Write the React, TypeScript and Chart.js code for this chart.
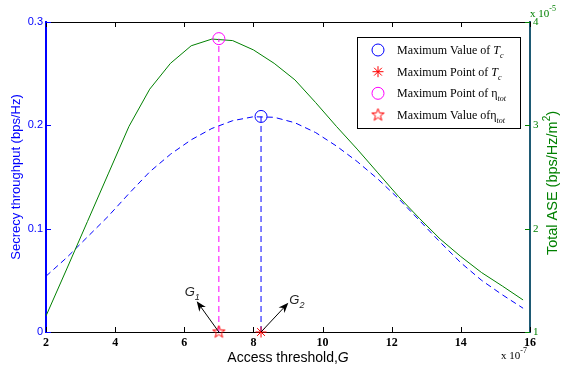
import React, { useEffect, useRef } from "react";
import { Chart, registerables } from "chart.js";

Chart.register(...registerables);

// ---- data ----
const accessThreshold = [2.0, 2.6, 3.2, 3.8, 4.4, 5.0, 5.6, 6.2, 6.8, 7.4, 8.0, 8.6, 9.2, 9.8, 10.4, 11.0, 11.6, 12.2, 12.8, 13.4, 14.0, 14.6, 15.2, 15.8];
const secrecyThroughput = [0.054, 0.072, 0.092, 0.112, 0.134, 0.155, 0.172, 0.186, 0.197, 0.2045, 0.2083, 0.2078, 0.2025, 0.193, 0.18, 0.165, 0.148, 0.129, 0.108, 0.087, 0.067, 0.05, 0.036, 0.023];
const totalASE = [1.155, 1.61, 2.07, 2.53, 2.99, 3.35, 3.6, 3.77, 3.835, 3.82, 3.73, 3.6, 3.44, 3.22, 2.99, 2.77, 2.54, 2.31, 2.1, 1.9, 1.73, 1.575, 1.445, 1.31];

const xTickValues = [2, 4, 6, 8, 10, 12, 14, 16];
const leftTickValues = [0, 0.1, 0.2, 0.3];
const rightTickValues = [1, 2, 3, 4];

const tcMaxPoint = { x: 8.22, y: 0.2086 };
const etaMaxPoint = { x: 7.0, y: 3.839 };
const g1ArrowTip = { x: 6.36, y: 0.0298 };
const g2ArrowTip = { x: 9.01, y: 0.0282 };

const legendLabels = ["Maximum Value of ", "Maximum Point of ", "Maximum Point of ", "Maximum Value of"];
const legendSymbols = ["T", "T", "\u03b7", "\u03b7"];
const legendSubs = ["c", "c", "tot", "tot"];

const xTitle = "Access threshold,";
const xTitleVar = "G";
const leftTitle = "Secrecy throughput (bps/Hz)";
const rightTitleMain = "Total ASE (bps/Hz/m";
const rightTitleSup = "2";
const rightTitleEnd = ")";

const BLUE = "#0000ff";
const GREEN = "#008000";
const MAGENTA = "#ff00ff";
const RED = "#ff0000";
const RIGHT_AXIS = "#1e5a74";

const SERIF = '"Liberation Serif", "Times New Roman", serif';
const SANS = '"Liberation Sans", Arial, Helvetica, sans-serif';

function makePentagram(color: string, outer: number) {
  const size = Math.ceil(outer * 2 + 4);
  const c = document.createElement("canvas");
  c.width = size;
  c.height = size;
  const ctx = c.getContext("2d")!;
  const cx = size / 2, cy = size / 2;
  const inner = outer * 0.4;
  ctx.beginPath();
  for (let i = 0; i < 10; i++) {
    const r = i % 2 === 0 ? outer : inner;
    const a = -Math.PI / 2 + (i * Math.PI) / 5;
    const px = cx + r * Math.cos(a);
    const py = cy + r * Math.sin(a);
    if (i === 0) ctx.moveTo(px, py); else ctx.lineTo(px, py);
  }
  ctx.closePath();
  ctx.strokeStyle = color;
  ctx.lineWidth = 1;
  ctx.stroke();
  return c;
}

function drawAsterisk(ctx: CanvasRenderingContext2D, x: number, y: number, r: number, color: string) {
  ctx.save();
  ctx.strokeStyle = color;
  ctx.lineWidth = 1;
  ctx.beginPath();
  for (let i = 0; i < 4; i++) {
    const a = (i * Math.PI) / 4;
    ctx.moveTo(x - r * Math.cos(a), y - r * Math.sin(a));
    ctx.lineTo(x + r * Math.cos(a), y + r * Math.sin(a));
  }
  ctx.stroke();
  ctx.restore();
}

function drawArrow(ctx: CanvasRenderingContext2D, x0: number, y0: number, x1: number, y1: number) {
  const ang = Math.atan2(y1 - y0, x1 - x0);
  const len = 10, w = 4, notch = 7;
  const ux = Math.cos(ang), uy = Math.sin(ang);
  const px = -uy, py = ux;
  ctx.save();
  ctx.strokeStyle = "#000";
  ctx.fillStyle = "#000";
  ctx.lineWidth = 1;
  ctx.beginPath();
  ctx.moveTo(x0, y0);
  ctx.lineTo(x1 - ux * notch, y1 - uy * notch);
  ctx.stroke();
  ctx.beginPath();
  ctx.moveTo(x1, y1);
  ctx.lineTo(x1 - ux * len + px * w, y1 - uy * len + py * w);
  ctx.lineTo(x1 - ux * notch, y1 - uy * notch);
  ctx.lineTo(x1 - ux * len - px * w, y1 - uy * len - py * w);
  ctx.closePath();
  ctx.fill();
  ctx.restore();
}

type Run = { text: string; font: string; dy?: number };
function runsWidth(ctx: CanvasRenderingContext2D, runs: Run[]) {
  let w = 0;
  for (const r of runs) { ctx.font = r.font; w += ctx.measureText(r.text).width; }
  return w;
}
function drawRuns(ctx: CanvasRenderingContext2D, x: number, y: number, runs: Run[]) {
  let cx = x;
  for (const r of runs) {
    ctx.font = r.font;
    ctx.fillText(r.text, cx, y + (r.dy || 0));
    cx += ctx.measureText(r.text).width;
  }
  return cx;
}

export default function App() {
  const canvasRef = useRef<HTMLCanvasElement | null>(null);

  useEffect(() => {
    const canvas = canvasRef.current;
    if (!canvas) return;
    const pentagram = makePentagram(RED, 6.5);

    const overlay = {
      id: "overlay",
      afterDatasetsDraw(chart: any) {
        const ctx: CanvasRenderingContext2D = chart.ctx;
        const xs = chart.scales.x, ys = chart.scales.y;
        const b1x = xs.getPixelForValue(etaMaxPoint.x), b1y = ys.getPixelForValue(0);
        const t1x = xs.getPixelForValue(g1ArrowTip.x), t1y = ys.getPixelForValue(g1ArrowTip.y);
        const b2x = xs.getPixelForValue(tcMaxPoint.x), b2y = ys.getPixelForValue(0);
        const t2x = xs.getPixelForValue(g2ArrowTip.x), t2y = ys.getPixelForValue(g2ArrowTip.y);
        drawArrow(ctx, b1x, b1y, t1x, t1y);
        drawArrow(ctx, b2x, b2y, t2x, t2y);
        ctx.save();
        ctx.fillStyle = "#222";
        ctx.textBaseline = "alphabetic";
        ctx.textAlign = "left";
        drawRuns(ctx, t1x - 12, t1y - 5, [
          { text: "G", font: `italic 13px ${SANS}` },
          { text: "1", font: `italic 9px ${SANS}`, dy: 4 },
        ]);
        drawRuns(ctx, t2x + 1, t2y + 1, [
          { text: "G", font: `italic 13px ${SANS}` },
          { text: "2", font: `italic 9px ${SANS}`, dy: 4 },
        ]);
        ctx.restore();
      },
      afterDraw(chart: any) {
        const ctx: CanvasRenderingContext2D = chart.ctx;
        const { left, right, top, bottom } = chart.chartArea;
        const xs = chart.scales.x, ys = chart.scales.y, y1 = chart.scales.y1;
        ctx.save();
        // top border
        ctx.strokeStyle = "#000";
        ctx.lineWidth = 1;
        ctx.beginPath();
        ctx.moveTo(left, top + 0.5);
        ctx.lineTo(right, top + 0.5);
        ctx.stroke();
        // x tick marks (inward, bottom and top)
        ctx.beginPath();
        for (const v of xTickValues) {
          const px = Math.round(xs.getPixelForValue(v)) + 0.5;
          ctx.moveTo(px, bottom);
          ctx.lineTo(px, bottom - 5);
          ctx.moveTo(px, top);
          ctx.lineTo(px, top + 5);
        }
        ctx.stroke();
        // left ticks
        ctx.strokeStyle = BLUE;
        ctx.beginPath();
        for (const v of leftTickValues) {
          const py = Math.round(ys.getPixelForValue(v)) + 0.5;
          ctx.moveTo(left, py);
          ctx.lineTo(left + 5, py);
        }
        ctx.stroke();
        // right ticks
        ctx.strokeStyle = GREEN;
        ctx.beginPath();
        for (const v of rightTickValues) {
          const py = Math.round(y1.getPixelForValue(v)) + 0.5;
          ctx.moveTo(right - 5, py);
          ctx.lineTo(right, py);
        }
        ctx.stroke();

        // titles
        ctx.textBaseline = "alphabetic";
        ctx.fillStyle = "#000";
        const xRuns: Run[] = [
          { text: xTitle, font: `14px ${SANS}` },
          { text: xTitleVar, font: `italic 14px ${SANS}` },
        ];
        const xw = runsWidth(ctx, xRuns);
        drawRuns(ctx, (left + right) / 2 - xw / 2, 362, xRuns);

        // x 10^-7
        drawRuns(ctx, 501, 359, [
          { text: "x 10", font: `11px ${SERIF}` },
          { text: "-7", font: `8px ${SERIF}`, dy: -6 },
        ]);
        // x 10^-5 (right axis)
        ctx.fillStyle = GREEN;
        drawRuns(ctx, 530, 17, [
          { text: "x 10", font: `11px ${SERIF}` },
          { text: "-5", font: `8px ${SERIF}`, dy: -6 },
        ]);

        // left title
        ctx.save();
        ctx.translate(16, (top + bottom) / 2);
        ctx.rotate(-Math.PI / 2);
        ctx.fillStyle = BLUE;
        ctx.textAlign = "center";
        ctx.textBaseline = "middle";
        ctx.font = `13px ${SANS}`;
        ctx.fillText(leftTitle, 0, 0);
        ctx.restore();

        // right title
        ctx.save();
        ctx.translate(553, (top + bottom) / 2 + 6);
        ctx.rotate(-Math.PI / 2);
        ctx.fillStyle = GREEN;
        ctx.textAlign = "left";
        ctx.textBaseline = "middle";
        const rRuns: Run[] = [
          { text: rightTitleMain, font: `14.5px ${SANS}` },
          { text: rightTitleSup, font: `10px ${SANS}`, dy: -6 },
          { text: rightTitleEnd, font: `14.5px ${SANS}` },
        ];
        const rw = runsWidth(ctx, rRuns);
        drawRuns(ctx, -rw / 2, 0, rRuns);
        ctx.restore();

        // legend
        const lx = 357.5, ly = 37.5, lw = 163, lh = 91;
        ctx.fillStyle = "#fff";
        ctx.fillRect(lx, ly, lw, lh);
        ctx.strokeStyle = "#000";
        ctx.lineWidth = 1;
        ctx.strokeRect(lx, ly, lw, lh);
        const rowY = [50, 71.7, 93.3, 115];
        const mx = 378, tx = 397;
        ctx.lineWidth = 1;
        ctx.strokeStyle = BLUE;
        ctx.beginPath();
        ctx.arc(mx, rowY[0], 6, 0, Math.PI * 2);
        ctx.stroke();
        drawAsterisk(ctx, mx, rowY[1], 5.5, RED);
        ctx.strokeStyle = MAGENTA;
        ctx.beginPath();
        ctx.arc(mx, rowY[2], 6, 0, Math.PI * 2);
        ctx.stroke();
        ctx.drawImage(pentagram, mx - pentagram.width / 2, rowY[3] - pentagram.height / 2);
        ctx.fillStyle = "#000";
        ctx.textAlign = "left";
        ctx.textBaseline = "alphabetic";
        for (let i = 0; i < legendLabels.length; i++) {
          const isEta = i >= 2;
          drawRuns(ctx, tx, rowY[i] + 4, [
            { text: legendLabels[i], font: `12px ${SERIF}` },
            { text: legendSymbols[i], font: isEta ? `12px ${SERIF}` : `italic 12px ${SERIF}` },
            { text: legendSubs[i], font: `italic 8px ${SERIF}`, dy: 4 },
          ]);
        }
        ctx.restore();
      },
    };

    const chart = new Chart(canvas, {
      type: "line",
      data: {
        datasets: [
          {
            label: "Maximum Value of Tc",
            data: [tcMaxPoint],
            yAxisID: "y",
            showLine: false,
            pointStyle: "circle",
            pointRadius: 6,
            pointBorderColor: BLUE,
            pointBackgroundColor: "rgba(0,0,0,0)",
            pointBorderWidth: 1,
            clip: false,
            order: 0,
          },
          {
            label: "Maximum Point of eta",
            data: [etaMaxPoint],
            yAxisID: "y1",
            showLine: false,
            pointStyle: "circle",
            pointRadius: 6,
            pointBorderColor: MAGENTA,
            pointBackgroundColor: "rgba(0,0,0,0)",
            pointBorderWidth: 1,
            clip: false,
            order: 0,
          },
          {
            label: "Maximum Point of Tc",
            data: [{ x: tcMaxPoint.x, y: 0 }],
            yAxisID: "y",
            showLine: false,
            pointStyle: "star",
            pointRadius: 5.5,
            pointBorderColor: RED,
            pointBackgroundColor: RED,
            pointBorderWidth: 1,
            clip: false,
            order: 0,
          },
          {
            label: "Maximum Value of eta",
            data: [{ x: etaMaxPoint.x, y: 0 }],
            yAxisID: "y",
            showLine: false,
            pointStyle: pentagram as any,
            pointRadius: 6,
            clip: false,
            order: 0,
          },
          {
            label: "tc drop",
            data: [{ x: tcMaxPoint.x, y: 0 }, { x: tcMaxPoint.x, y: tcMaxPoint.y }],
            yAxisID: "y",
            borderColor: BLUE,
            borderWidth: 1,
            borderDash: [6, 4],
            pointRadius: 0,
            fill: false,
            order: 1,
          },
          {
            label: "eta drop",
            data: [{ x: etaMaxPoint.x, y: 1 }, { x: etaMaxPoint.x, y: etaMaxPoint.y }],
            yAxisID: "y1",
            borderColor: MAGENTA,
            borderWidth: 1,
            borderDash: [6, 4],
            pointRadius: 0,
            fill: false,
            order: 1,
          },
          {
            label: "Total ASE",
            data: accessThreshold.map((x, i) => ({ x, y: totalASE[i] })),
            yAxisID: "y1",
            borderColor: GREEN,
            borderWidth: 1,
            pointRadius: 0,
            tension: 0,
            fill: false,
            order: 2,
          },
          {
            label: "Secrecy throughput",
            data: accessThreshold.map((x, i) => ({ x, y: secrecyThroughput[i] })),
            yAxisID: "y",
            borderColor: BLUE,
            borderWidth: 1,
            borderDash: [6, 4],
            pointRadius: 0,
            tension: 0,
            fill: false,
            order: 2,
          },
        ],
      },
      options: {
        animation: false,
        responsive: false,
        devicePixelRatio: 1,
        layout: { padding: { top: 22, left: 0, right: 0, bottom: 0 } },
        plugins: { legend: { display: false }, tooltip: { enabled: false } },
        scales: {
          x: {
            type: "linear",
            position: "bottom",
            min: 2,
            max: 16,
            grid: { display: false, drawTicks: false },
            border: { display: true, color: "#000", width: 1 },
            ticks: {
              color: "#000",
              font: { family: SERIF, size: 12, weight: "bold" },
              padding: 4,
              maxRotation: 0,
              autoSkip: false,
              callback: (v: any) => String(v),
            },
            afterBuildTicks: (s: any) => { s.ticks = xTickValues.map((v) => ({ value: v })); },
            afterFit: (s: any) => { s.height = 40; },
          },
          y: {
            type: "linear",
            position: "left",
            min: 0,
            max: 0.3,
            grid: { display: false, drawTicks: false },
            border: { display: true, color: BLUE, width: 2 },
            ticks: {
              color: BLUE,
              font: { family: SANS, size: 11 },
              padding: 3,
              callback: (v: any) => String(v),
            },
            afterBuildTicks: (s: any) => { s.ticks = leftTickValues.map((v) => ({ value: v })); },
            afterFit: (s: any) => { s.width = 46; },
          },
          y1: {
            type: "linear",
            position: "right",
            min: 1,
            max: 4,
            grid: { display: false, drawTicks: false },
            border: { display: true, color: RIGHT_AXIS, width: 2 },
            ticks: {
              color: GREEN,
              font: { family: SERIF, size: 11 },
              padding: 3,
              callback: (v: any) => String(v),
            },
            afterBuildTicks: (s: any) => { s.ticks = rightTickValues.map((v) => ({ value: v })); },
            afterFit: (s: any) => { s.width = 31; },
          },
        },
      },
      plugins: [overlay],
    } as any);

    return () => chart.destroy();
  }, []);

  return (
    <div style={{ position: "absolute", left: 0, top: 0, width: 561, height: 372, background: "#fff" }}>
      <canvas ref={canvasRef} width={561} height={372} style={{ display: "block" }} />
    </div>
  );
}
